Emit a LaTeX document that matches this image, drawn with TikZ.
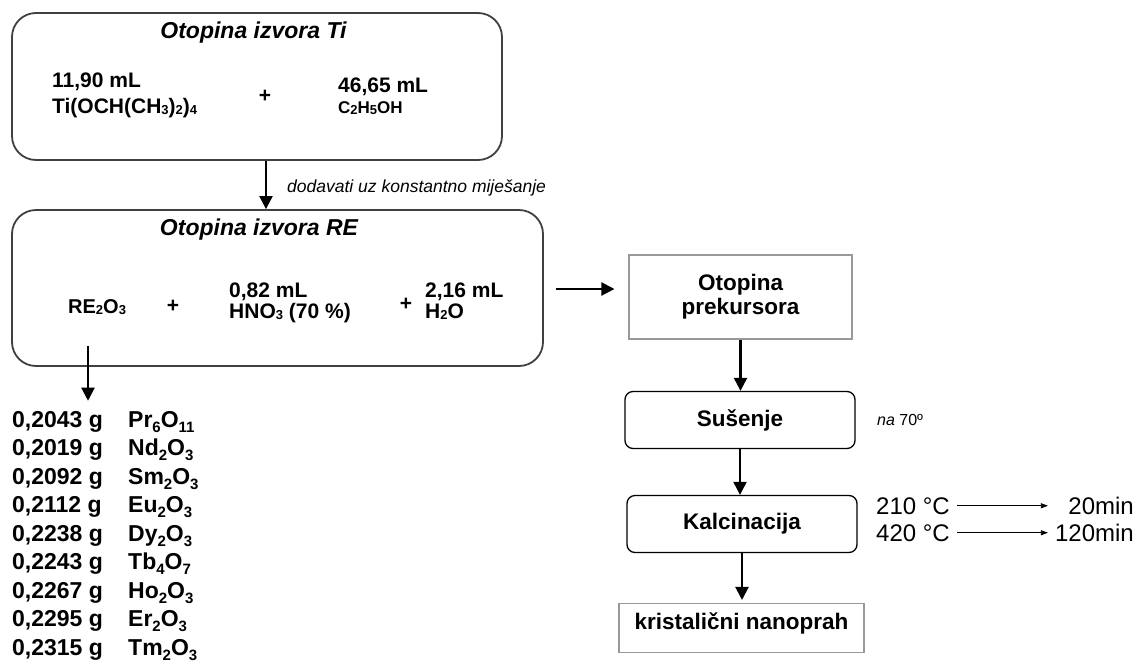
\documentclass[tikz,border=0pt]{standalone}
\usepackage{fontspec}
\setmainfont{Liberation Sans}
\usetikzlibrary{arrows.meta}
\newcommand{\setfs}[1]{\fontsize{#1}{#1}\selectfont}
\newcommand{\sbs}[1]{\raisebox{-1.5pt}{\fontsize{13}{13}\selectfont #1}}
\newcommand{\lsb}[1]{\raisebox{-5pt}{\fontsize{15}{15}\selectfont #1}}
\begin{document}
\begin{tikzpicture}[x=1pt,y=-1pt,
  bigbox/.style={draw=black!75, line width=1.8pt, rounded corners=24pt, inner sep=0pt},
  procbox/.style={draw=black, line width=1.3pt, rounded corners=8pt, font=\bfseries\setfs{22.5}, inner sep=0pt},
  greybox/.style={draw=black!40, line width=1.1pt, font=\bfseries\fontsize{22.5}{24}\selectfont, inner sep=0pt, align=center},
  arr/.style={line width=2.2pt, -{Triangle[length=13pt,width=13pt]}},
  thinarr/.style={line width=0.8pt, -{Triangle[length=7pt,width=5pt]}},
  txt/.style={inner sep=0pt, font=\bfseries\setfs{21}},
  ttl/.style={inner sep=0pt, font=\bfseries\itshape\setfs{23}},
  lst/.style={inner sep=0pt, font=\bfseries\setfs{23}, anchor=base west},
  plain/.style={inner sep=0pt, font=\setfs{24}},
]
\useasboundingbox (0,0) rectangle (1138,662);

% Box 1
\node[bigbox, minimum width=490pt, minimum height=147pt] (box1) at (257,86.5) {};
\node[ttl, anchor=base] (t1) at (253.5,38) {Otopina izvora Ti};
\node[txt, anchor=base west] (v11) at (52,87) {11,90 mL};
\node[txt, anchor=base west] (ti) at (52,113) {Ti(OCH(CH\sbs{3})\sbs{2})\sbs{4}};
\node[txt, anchor=base] (p1) at (265,102) {+};
\node[txt, anchor=base west] (v46) at (338,92) {46,65 mL};
\node[inner sep=0pt, font=\bfseries\setfs{17}, anchor=base west] (eth) at (338,113) {C\sbs{2}H\sbs{5}OH};

% arrow 1 and its label
\coordinate (ax) at (266,0);
\node[inner sep=0pt, font=\itshape\setfs{17.5}, anchor=base west] (lab) at (287,192) {dodavati uz konstantno miješanje};

% Box 2
\node[bigbox, minimum width=531pt, minimum height=156pt] (box2) at (277.5,288) {};
\node[ttl, anchor=base] (t2) at (259,235) {Otopina izvora RE};
\node[inner sep=0pt, font=\bfseries\setfs{20}, anchor=base west] (re) at (68,313) {RE\sbs{2}O\sbs{3}};
\node[txt, anchor=base] (p2) at (173,312) {+};
\node[txt, anchor=base west] (v082) at (229,297) {0,82 mL};
\node[txt, anchor=base west] (hno) at (229,318) {HNO\sbs{3} (70 \%)};
\node[txt, anchor=base] (p3) at (406,310) {+};
\node[txt, anchor=base west] (v216) at (425,297) {2,16 mL};
\node[txt, anchor=base west] (h2o) at (425,318) {H\sbs{2}O};

\draw[arr] (box1.south -| ax) -- (box2.north -| ax);

% List
\coordinate (lx) at (88,0);
\foreach \i/\v/\f in {0/{0,2043 g}/{Pr\lsb{6}O\lsb{11}},
                      1/{0,2019 g}/{Nd\lsb{2}O\lsb{3}},
                      2/{0,2092 g}/{Sm\lsb{2}O\lsb{3}},
                      3/{0,2112 g}/{Eu\lsb{2}O\lsb{3}},
                      4/{0,2238 g}/{Dy\lsb{2}O\lsb{3}},
                      5/{0,2243 g}/{Tb\lsb{4}O\lsb{7}},
                      6/{0,2267 g}/{Ho\lsb{2}O\lsb{3}},
                      7/{0,2295 g}/{Er\lsb{2}O\lsb{3}},
                      8/{0,2315 g}/{Tm\lsb{2}O\lsb{3}}}{
  \node[lst] (val\i) at (12,427+28.5*\i) {\v};
  \node[lst] (frm\i) at (128,427+28.5*\i) {\f};
}
\draw[arr] ([yshift=21pt]box2.south -| lx) -- ([yshift=10pt]lx |- val0.north);

% Right column
\node[greybox, minimum width=223pt, minimum height=84pt] (prek) at (740.5,297) {Otopina\\prekursora};
\node[procbox, minimum width=230pt, minimum height=57pt] (sus) at (740,420) {Sušenje};
\node[procbox, minimum width=230pt, minimum height=57pt] (kal) at (742,524) {Kalcinacija};
\node[greybox, minimum width=245pt, minimum height=49pt] (kris) at (741.5,628) {};
\node[inner sep=0pt, font=\bfseries\setfs{22.5}, anchor=base] (kristxt) at (741.5,629) {kristalični nanoprah};

\coordinate (ay) at (0,289);
\draw[arr] ([xshift=12pt]box2.east |- ay) -- ([xshift=-14pt]prek.west |- ay);
\draw[arr] (prek.south) -- (prek.south |- sus.north);
\draw[arr] (sus.south) -- (sus.south |- kal.north);
\draw[arr] (kal.south) -- ([yshift=3pt]kal.south |- kris.north);

\node[inner sep=0pt, font=\setfs{16}, anchor=west] (na) at (877,420) {\textit{na} 70º};

\node[plain, anchor=base west] (t210) at (876,514) {210 °C};
\node[plain, anchor=base west] (t420) at (876,541) {420 °C};
\node[plain, anchor=base east] (m20) at (1134,514) {20min};
\node[plain, anchor=base east] (m120) at (1134,541) {120min};
\draw[thinarr] ([xshift=7pt]t210.east) -- ([xshift=-7pt]m120.west |- t210.east);
\draw[thinarr] ([xshift=7pt]t420.east) -- ([xshift=-7pt]m120.west |- t420.east);
\end{tikzpicture}
\end{document}
